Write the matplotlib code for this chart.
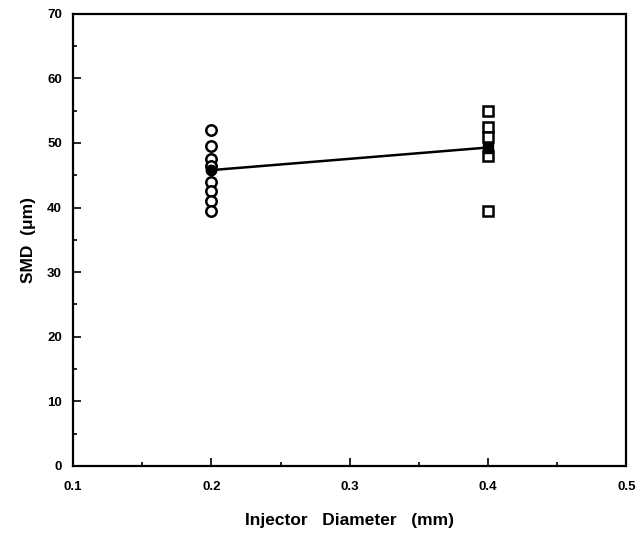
import numpy as np
import matplotlib
matplotlib.use('Agg')
import matplotlib.pyplot as plt
from matplotlib.ticker import MultipleLocator

# individual measurements
x_small = 0.2
smd_small = [52.0, 49.5, 47.5, 46.5, 44.0, 42.5, 41.0, 39.5]
x_large = 0.4
smd_large = [55.0, 52.5, 51.0, 48.0, 39.5]

# averages (filled markers, joined by a line)
mean_x = [0.2, 0.4]
mean_smd = [45.8, 49.3]

plt.rcParams['font.family'] = ['Liberation Sans', 'DejaVu Sans']

fig = plt.figure(figsize=(6.41, 5.33), dpi=100)
ax = fig.add_axes([0.114, 0.126, 0.863, 0.848])

ax.plot([x_small] * len(smd_small), smd_small, 'o', ms=7.5, mfc='white',
        mec='black', mew=1.8, zorder=3)
ax.plot([x_large] * len(smd_large), smd_large, 's', ms=7.5, mfc='white',
        mec='black', mew=1.8, zorder=3)
ax.plot(mean_x, mean_smd, '-', color='black', lw=1.8, zorder=2)
ax.plot(mean_x[0], mean_smd[0], 'o', ms=7.5, color='black', zorder=4)
ax.plot(mean_x[1], mean_smd[1], 's', ms=7.5, color='black', zorder=4)

ax.set_xlim(0.1, 0.5)
ax.set_ylim(0, 70)
ax.xaxis.set_major_locator(MultipleLocator(0.1))
ax.xaxis.set_minor_locator(MultipleLocator(0.05))
ax.yaxis.set_major_locator(MultipleLocator(10))
ax.yaxis.set_minor_locator(MultipleLocator(5))
ax.tick_params(which='both', direction='in', top=False, right=False,
               labelsize=9.5, width=1.2, pad=8)
ax.tick_params(axis='x', which='both', pad=11)
ax.tick_params(which='major', length=6)
ax.tick_params(which='minor', length=3)
for s in ax.spines.values():
    s.set_linewidth(1.6)
for lab in ax.get_xticklabels() + ax.get_yticklabels():
    lab.set_fontweight('bold')

ax.set_xlabel('Injector   Diameter   (mm)', fontsize=12.5, fontweight='bold',
              labelpad=14)
ax.set_ylabel('SMD  (\u03bcm)', fontsize=12.5, fontweight='bold', labelpad=8)

fig.savefig('out.png', dpi=100)
